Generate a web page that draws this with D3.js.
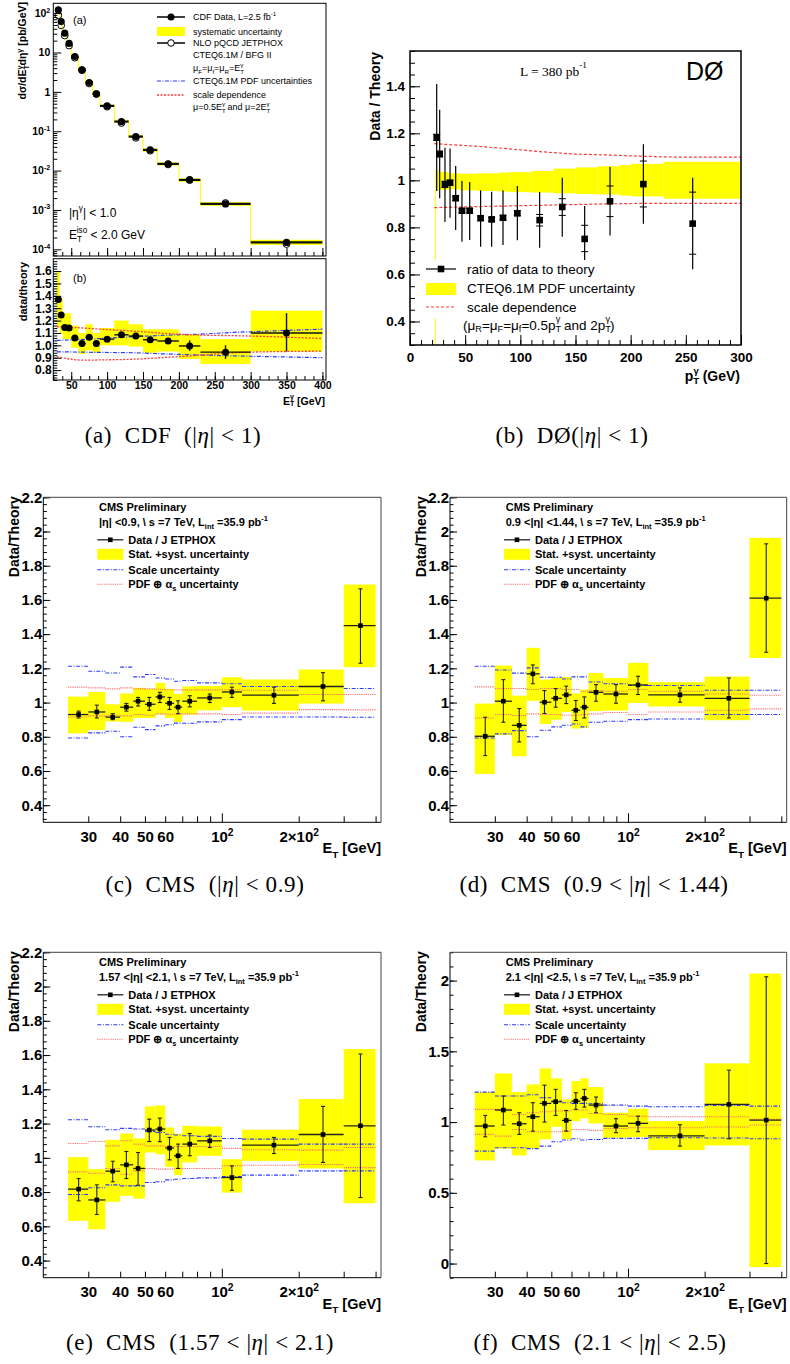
<!DOCTYPE html>
<html>
<head>
<meta charset="utf-8">
<script src="https://cdn.jsdelivr.net/npm/d3@7"></script>
<style>
  body { margin: 0; background: #fff; }
  svg { display: block; }
</style>
</head>
<body>
<div id="chart"></div>
<script>
// ---------- data: (a) CDF ----------
var cdfLo     = [30, 34, 38, 44, 50, 60, 70, 80, 90, 110, 130, 150, 170, 200, 230, 300];
var cdfHi     = [34, 38, 44, 50, 60, 70, 80, 90, 110, 130, 150, 170, 200, 230, 300, 400];
var cdfX      = [32, 36, 41, 47, 55, 65, 75, 85, 100, 120, 140, 160, 185, 215, 265, 350];
var cdfData   = [121, 61, 31, 17, 7.9, 3.6, 1.73, 0.89, 0.44, 0.176, 0.073, 0.0335, 0.0148, 0.0058, 0.00142, 0.00015];
var cdfTheory = [88, 49, 27, 15, 7.4, 3.55, 1.63, 0.88, 0.42, 0.162, 0.068, 0.032, 0.0143, 0.0058, 0.0015, 0.000136];
var cdfRatio  = [1.37, 1.245, 1.145, 1.14, 1.06, 1.015, 1.065, 1.015, 1.05, 1.085, 1.075, 1.045, 1.035, 0.995, 0.945, 1.10];
var cdfSysLo  = [1.15, 1.10, 1.05, 1.05, 0.98, 0.93, 0.96, 0.94, 1.00, 1.00, 0.99, 0.94, 0.95, 0.89, 0.85, 0.95];
var cdfSysHi  = [1.60, 1.38, 1.26, 1.26, 1.16, 1.10, 1.17, 1.10, 1.14, 1.20, 1.17, 1.13, 1.13, 1.09, 1.05, 1.28];
var cdfErrLo  = [1.35, 1.23, 1.13, 1.125, 1.045, 1.0, 1.05, 1.0, 1.035, 1.07, 1.06, 1.03, 1.015, 0.955, 0.89, 0.95];
var cdfErrHi  = [1.39, 1.26, 1.16, 1.155, 1.075, 1.03, 1.08, 1.03, 1.065, 1.10, 1.09, 1.06, 1.055, 1.04, 1.0, 1.26];
var cdfLineX   = [30, 67, 90, 136, 183, 229, 276, 300, 400];
var cdfScaleUp = [1.15, 1.14, 1.131, 1.115, 1.096, 1.083, 1.078, 1.075, 1.055];
var cdfScaleDn = [0.907, 0.88, 0.882, 0.888, 0.903, 0.92, 0.94, 0.945, 0.953];
var cdfPdfUp   = [1.04, 1.048, 1.055, 1.069, 1.082, 1.09, 1.105, 1.11, 1.131];
var cdfPdfDn   = [0.948, 0.945, 0.943, 0.94, 0.93, 0.922, 0.915, 0.912, 0.9];
var cdfLogTicks  = [1e-4, 1e-3, 1e-2, 1e-1, 1, 10, 100];
var cdfLogLabels = ["10^{-4}", "10^{-3}", "10^{-2}", "10^{-1}", "1", "10", "10^{2}"];
var cdfXTicks  = [50, 100, 150, 200, 250, 300, 350, 400];
var cdfRTicks  = [0.8, 0.9, 1.0, 1.1, 1.2, 1.3, 1.4, 1.5, 1.6];

// ---------- data: (b) D0 ----------
var d0X     = [24.2, 26.9, 31.7, 36.3, 41.4, 47.1, 54.1, 64, 74, 84.3, 97.3, 117.5, 138, 158.3, 181.3, 211.5, 256.2];
var d0Ratio = [1.183, 1.112, 0.983, 0.99, 0.924, 0.871, 0.871, 0.839, 0.834, 0.841, 0.86, 0.831, 0.887, 0.751, 0.911, 0.984, 0.816];
var d0ErrLo = [0.955, 0.924, 0.823, 0.841, 0.789, 0.739, 0.746, 0.718, 0.718, 0.725, 0.745, 0.714, 0.76, 0.661, 0.766, 0.816, 0.622];
var d0ErrHi = [1.41, 1.30, 1.139, 1.135, 1.061, 0.997, 0.993, 0.958, 0.952, 0.958, 0.976, 0.95, 1.011, 0.891, 1.057, 1.153, 1.011];
var d0StatLo = [1.17, 1.10, 0.97, 0.98, 0.915, 0.862, 0.862, 0.83, 0.825, 0.832, 0.85, 0.806, 0.851, 0.697, 0.846, 0.887, 0.686];
var d0StatHi = [1.196, 1.124, 0.996, 1.0, 0.933, 0.88, 0.88, 0.848, 0.843, 0.85, 0.87, 0.855, 0.922, 0.809, 0.976, 1.082, 0.95];
var d0BandEdges = [23, 27, 35, 45, 60, 80, 90, 110, 130, 150, 170, 190, 200, 230, 300];
var d0BandHi = [1.042, 1.035, 1.03, 1.028, 1.03, 1.033, 1.035, 1.04, 1.05, 1.055, 1.06, 1.065, 1.07, 1.079];
var d0BandLo = [0.958, 0.96, 0.962, 0.958, 0.955, 0.952, 0.95, 0.948, 0.945, 0.942, 0.94, 0.935, 0.932, 0.922];
var d0LineX   = [22, 57, 88, 118, 148, 178, 208, 239, 300];
var d0ScaleUp = [1.156, 1.146, 1.135, 1.122, 1.112, 1.108, 1.103, 1.099, 1.099];
var d0ScaleDn = [0.884, 0.888, 0.891, 0.894, 0.897, 0.9, 0.902, 0.902, 0.902];
var d0XTicks  = [0, 50, 100, 150, 200, 250, 300];
var d0YTicks  = [0.4, 0.6, 0.8, 1, 1.2, 1.4];
var d0YLabels = ["0.4", "0.6", "0.8", "1", "1.2", "1.4"];

// ---------- data: CMS (c)-(f) ----------
var cmsLo = [25, 30, 35, 40, 45, 50, 55, 60, 65, 70, 80, 100, 120, 200, 300];
var cmsHi = [30, 35, 40, 45, 50, 55, 60, 65, 70, 80, 100, 120, 200, 300, 400];
var cmsX  = [27.5, 32.4, 37.4, 42.3, 47, 52, 57.2, 62.4, 67.4, 74.9, 89.7, 109.5, 160, 249, 349];
var cmsXTicks  = [30, 40, 50, 60, 70, 80, 90, 100, 200, 300, 400];
var cmsXLabels = ["30", "40", "50", "60", "", "", "", "10^{2}", "2\u00d710^{2}", "", ""];
var cmsYTicks  = [0.4, 0.6, 0.8, 1, 1.2, 1.4, 1.6, 1.8, 2, 2.2];
var cmsYLabels = ["0.4", "0.6", "0.8", "1", "1.2", "1.4", "1.6", "1.8", "2", "2.2"];
var cmsFYTicks  = [0, 0.5, 1, 1.5, 2];
var cmsFYLabels = ["0", "0.5", "1", "1.5", "2"];

var cRatio  = [0.93, 0.945, 0.915, 0.973, 1.008, 0.99, 1.033, 0.996, 0.973, 1.008, 1.027, 1.062, 1.043, 1.094, 1.45];
var cBandLo = [0.82, 0.84, 0.89, 0.887, 0.91, 0.91, 0.93, 0.91, 0.887, 0.93, 0.955, 0.973, 0.953, 0.994, 1.207];
var cBandHi = [1.035, 1.062, 0.99, 1.053, 1.086, 1.08, 1.115, 1.08, 1.05, 1.094, 1.097, 1.148, 1.135, 1.193, 1.69];
var cErrLo  = [0.91, 0.91, 0.90, 0.95, 0.98, 0.955, 1.0, 0.96, 0.935, 0.975, 1.0, 1.03, 0.995, 1.01, 1.23];
var cErrHi  = [0.95, 0.985, 0.935, 0.995, 1.03, 1.03, 1.06, 1.03, 1.01, 1.04, 1.05, 1.09, 1.09, 1.175, 1.665];
var cScaleUp = [1.212, 1.183, 1.173, 1.207, 1.15, 1.164, 1.144, 1.138, 1.125, 1.129, 1.115, 1.11, 1.094, 1.094, 1.082];
var cScaleDn = [0.793, 0.823, 0.832, 0.80, 0.856, 0.842, 0.864, 0.87, 0.88, 0.879, 0.887, 0.90, 0.916, 0.916, 0.914];
var cPdfUp   = [1.09, 1.086, 1.08, 1.086, 1.08, 1.08, 1.078, 1.075, 1.075, 1.074, 1.074, 1.075, 1.072, 1.047, 1.047];
var cPdfDn   = [0.916, 0.922, 0.926, 0.922, 0.93, 0.926, 0.934, 0.932, 0.934, 0.934, 0.934, 0.93, 0.938, 0.959, 0.957];

var dRatio  = [0.803, 1.008, 0.867, 1.168, 1.002, 1.025, 1.045, 0.955, 0.973, 1.06, 1.05, 1.103, 1.045, 1.025, 1.61];
var dBandLo = [0.583, 0.81, 0.686, 1.01, 0.875, 0.90, 0.945, 0.848, 0.852, 0.95, 0.953, 0.998, 0.977, 0.897, 1.261];
var dBandHi = [0.994, 1.216, 1.04, 1.32, 1.134, 1.144, 1.15, 1.053, 1.076, 1.173, 1.144, 1.232, 1.119, 1.152, 1.963];
var dErrLo  = [0.69, 0.885, 0.77, 1.11, 0.936, 0.973, 0.994, 0.895, 0.91, 1.008, 0.996, 1.047, 1.002, 0.91, 1.294];
var dErrHi  = [0.914, 1.134, 0.965, 1.22, 1.07, 1.082, 1.096, 1.012, 1.033, 1.105, 1.105, 1.154, 1.086, 1.144, 1.928];
var dScaleUp = [1.212, 1.19, 1.172, 1.203, 1.148, 1.148, 1.138, 1.15, 1.15, 1.12, 1.11, 1.10, 1.10, 1.072, 1.072];
var dScaleDn = [0.793, 0.817, 0.836, 0.80, 0.838, 0.858, 0.867, 0.875, 0.858, 0.885, 0.891, 0.90, 0.904, 0.93, 0.93];
var dPdfUp   = [1.092, 1.082, 1.082, 1.076, 1.082, 1.082, 1.076, 1.076, 1.066, 1.07, 1.066, 1.076, 1.066, 1.05, 1.043];
var dPdfDn   = [0.91, 0.93, 0.924, 0.934, 0.93, 0.93, 0.926, 0.926, 0.93, 0.934, 0.942, 0.93, 0.945, 0.955, 0.963];

var eRatio  = [0.817, 0.754, 0.922, 0.959, 0.938, 1.162, 1.168, 1.057, 1.012, 1.08, 1.099, 0.885, 1.074, 1.136, 1.187];
var eBandLo = [0.632, 0.583, 0.743, 0.778, 0.762, 1.031, 1.021, 0.947, 0.899, 0.973, 1.012, 0.797, 0.982, 0.938, 0.735];
var eBandHi = [1.004, 0.934, 1.105, 1.142, 1.113, 1.30, 1.306, 1.177, 1.14, 1.187, 1.183, 0.992, 1.164, 1.343, 1.635];
var eErrLo  = [0.749, 0.669, 0.86, 0.879, 0.84, 1.095, 1.094, 0.988, 0.938, 1.012, 1.06, 0.81, 1.025, 0.973, 0.768];
var eErrHi  = [0.879, 0.842, 0.98, 1.037, 1.031, 1.226, 1.232, 1.119, 1.08, 1.142, 1.133, 0.953, 1.119, 1.30, 1.606];
var eScaleUp = [1.222, 1.181, 1.164, 1.172, 1.168, 1.154, 1.148, 1.138, 1.133, 1.129, 1.125, 1.113, 1.109, 1.08, 1.08];
var eScaleDn = [0.786, 0.825, 0.842, 0.836, 0.836, 0.856, 0.86, 0.871, 0.875, 0.879, 0.883, 0.891, 0.899, 0.924, 0.924];
var ePdfUp   = [1.084, 1.095, 1.07, 1.10, 1.08, 1.07, 1.07, 1.066, 1.066, 1.066, 1.066, 1.055, 1.047, 1.045, 1.06];
var ePdfDn   = [0.918, 0.91, 0.938, 0.904, 0.924, 0.938, 0.934, 0.934, 0.938, 0.938, 0.938, 0.953, 0.957, 0.961, 0.943];

var fRatio  = [0.972, 1.085, 0.988, 1.038, 1.132, 1.144, 1.012, 1.148, 1.167, 1.12, 0.972, 0.991, 0.903, 1.125, 1.014];
var fBandLo = [0.729, 0.812, 0.764, 0.812, 0.878, 0.967, 0.878, 1.007, 1.026, 0.991, 0.889, 0.894, 0.802, 0.835, -0.025];
var fBandHi = [1.212, 1.344, 1.212, 1.266, 1.379, 1.309, 1.16, 1.29, 1.309, 1.247, 1.066, 1.094, 1.007, 1.415, 2.05];
var fErrLo  = [0.896, 0.979, 0.913, 0.936, 1.0, 1.047, 0.936, 1.09, 1.106, 1.066, 0.925, 0.932, 0.83, 0.882, 0.0];
var fErrHi  = [1.047, 1.184, 1.066, 1.137, 1.261, 1.231, 1.082, 1.207, 1.231, 1.177, 1.024, 1.042, 0.981, 1.367, 2.027];
var fScaleUp = [1.212, 1.184, 1.184, 1.193, 1.172, 1.148, 1.137, 1.132, 1.132, 1.13, 1.12, 1.113, 1.108, 1.118, 1.113];
var fScaleDn = [0.795, 0.819, 0.819, 0.812, 0.83, 0.861, 0.873, 0.882, 0.873, 0.877, 0.885, 0.885, 0.889, 0.887, 0.882];
var fPdfUp   = [1.09, 1.09, 1.054, 1.066, 1.073, 1.078, 1.078, 1.085, 1.085, 1.061, 1.054, 1.042, 1.038, 1.038, 1.019];
var fPdfDn   = [0.913, 0.901, 0.948, 0.932, 0.932, 0.932, 0.936, 0.948, 0.948, 0.941, 0.955, 0.96, 0.96, 0.965, 0.979];

// ---------- setup ----------
var W = 790, H = 1364;
var SANS = "'Liberation Sans', Arial, Helvetica, sans-serif";
var SERIF = "'Liberation Serif', 'Times New Roman', serif";
var YELLOW = "#ffff00", BLUE = "#2b3bff", RED = "#ff3b3b", PINK = "#ff6f6f";

var svg = d3.select("#chart").append("svg")
    .attr("width", W).attr("height", H)
    .attr("font-family", SANS);
svg.append("rect").attr("width", W).attr("height", H).attr("fill", "#fff");

// text with ^{sup} and _{sub}; "~" at start of a script puts it back over the previous one
function rich(sel, str, fs) {
    var re = /([\^_])\{([^}]*)\}/g, last = 0, m, shift = 0, prev = "";
    function add(s, kind) {
        if (!s) return;
        var back = false;
        if (s[0] === "~") { back = true; s = s.slice(1); }
        var t = sel.append("tspan").text(s);
        var target = kind === "^" ? -0.42 * fs : kind === "_" ? 0.3 * fs : 0;
        if (target !== shift) t.attr("dy", target - shift);
        shift = target;
        if (kind) t.attr("font-size", fs * 0.68);
        if (back) t.attr("dx", -prev.length * fs * 0.68 * 0.6);
        prev = s;
    }
    while ((m = re.exec(str))) {
        add(str.slice(last, m.index), null);
        add(m[2], m[1]);
        last = re.lastIndex;
    }
    add(str.slice(last), null);
    return sel;
}

function label(x, y, str, fs, opts) {
    opts = opts || {};
    var t = svg.append("text")
        .attr("x", x).attr("y", y)
        .attr("font-size", fs)
        .attr("font-weight", opts.bold ? "bold" : "normal")
        .attr("font-family", opts.family || SANS)
        .attr("text-anchor", opts.anchor || "start")
        .attr("dominant-baseline", opts.baseline || "central")
        .attr("fill", "#000");
    if (opts.rotate) t.attr("transform", "rotate(-90," + x + "," + y + ")");
    return rich(t, str, fs);
}

// ROOT-like axis: ticks inside the frame
function axis(gen, pos, vals, size, labels, fs, pad) {
    var a = svg.append("g")
        .attr("transform", pos)
        .call(gen.tickValues(vals).tickSize(size).tickPadding(pad || 3)
            .tickFormat(function (d, i) { return labels ? labels[i] : ""; }));
    a.select(".domain").remove();
    a.selectAll("line").attr("stroke", "#000").attr("stroke-width", 1);
    a.attr("font-family", SANS).attr("font-size", fs || 10).attr("font-weight", "bold");
    a.selectAll(".tick text").attr("fill", "#000").each(function (d, i) {
        var s = labels ? labels[i] : "";
        if (s.indexOf("{") >= 0) {
            var t = d3.select(this);
            t.text(null);
            rich(t, s, fs);
        }
    });
    return a;
}

function frame(x0, y0, x1, y1, w) {
    svg.append("rect").attr("x", x0).attr("y", y0)
        .attr("width", x1 - x0).attr("height", y1 - y0)
        .attr("fill", "none").attr("stroke", "#000").attr("stroke-width", w || 1);
}

// ================= (a) CDF =================
var A = { x0: 53.3, x1: 326, y0: 3.3, y1: 256, y2: 258.7, y3: 380 };
var ax = d3.scaleLinear().domain([25, 405]).range([A.x0, A.x1]);
var ayT = d3.scaleLog().domain([Math.pow(10, -4.17), Math.pow(10, 2.25)]).range([A.y1, A.y0]);
var ayB = d3.scaleLinear().domain([0.72, 1.70]).range([A.y3, A.y2]);
var cdfIdx = d3.range(cdfX.length);

var ga = svg.append("g");
// top: systematic boxes
ga.selectAll(null).data(cdfIdx).join("rect")
    .attr("x", function (i) { return ax(cdfLo[i]); })
    .attr("width", function (i) { return ax(cdfHi[i]) - ax(cdfLo[i]); })
    .attr("y", function (i) { return ayT(cdfTheory[i] * cdfSysHi[i]); })
    .attr("height", function (i) { return ayT(cdfTheory[i] * cdfSysLo[i]) - ayT(cdfTheory[i] * cdfSysHi[i]); })
    .attr("fill", YELLOW);
var stepPts = cdfIdx.map(function (i) { return [cdfLo[i], cdfData[i]]; });
stepPts.push([cdfHi[cdfHi.length - 1], cdfData[cdfData.length - 1]]);
ga.append("path")
    .attr("d", d3.line().curve(d3.curveStepAfter)
        .x(function (d) { return ax(d[0]); }).y(function (d) { return ayT(d[1]); })(stepPts))
    .attr("fill", "none").attr("stroke", YELLOW).attr("stroke-width", 1);
ga.selectAll(null).data(cdfIdx).join("line")
    .attr("x1", function (i) { return ax(cdfLo[i]); })
    .attr("x2", function (i) { return ax(cdfHi[i]); })
    .attr("y1", function (i) { return ayT(cdfData[i]); })
    .attr("y2", function (i) { return ayT(cdfData[i]); })
    .attr("stroke", "#111").attr("stroke-width", 2.2);
ga.selectAll(null).data(cdfIdx).join("circle")
    .attr("cx", function (i) { return ax(cdfX[i]); })
    .attr("cy", function (i) { return ayT(cdfTheory[i]); })
    .attr("r", 3.4).attr("fill", "none").attr("stroke", "#000").attr("stroke-width", 1);
ga.selectAll(null).data(cdfIdx).join("circle")
    .attr("cx", function (i) { return ax(cdfX[i]); })
    .attr("cy", function (i) { return ayT(cdfData[i]); })
    .attr("r", 3.6).attr("fill", "#000");

// bottom: ratio
ga.selectAll(null).data(cdfIdx).join("rect")
    .attr("x", function (i) { return ax(cdfLo[i]); })
    .attr("width", function (i) { return ax(cdfHi[i]) - ax(cdfLo[i]); })
    .attr("y", function (i) { return ayB(cdfSysHi[i]); })
    .attr("height", function (i) { return ayB(cdfSysLo[i]) - ayB(cdfSysHi[i]); })
    .attr("fill", YELLOW);
var cdfCurve = function (vals) {
    return d3.line().curve(d3.curveMonotoneX)
        .x(function (d, i) { return ax(cdfLineX[i]); })
        .y(function (d) { return ayB(d); })(vals);
};
[cdfPdfUp, cdfPdfDn].forEach(function (v) {
    ga.append("path").attr("d", cdfCurve(v)).attr("fill", "none")
        .attr("stroke", BLUE).attr("stroke-width", 1.2).attr("stroke-dasharray", "4,1.5,1,1.5");
});
[cdfScaleUp, cdfScaleDn].forEach(function (v) {
    ga.append("path").attr("d", cdfCurve(v)).attr("fill", "none")
        .attr("stroke", RED).attr("stroke-width", 1.3).attr("stroke-dasharray", "2,1.5");
});
ga.selectAll(null).data(cdfIdx).join("line")
    .attr("x1", function (i) { return ax(cdfLo[i]); })
    .attr("x2", function (i) { return ax(cdfHi[i]); })
    .attr("y1", function (i) { return ayB(cdfRatio[i]); })
    .attr("y2", function (i) { return ayB(cdfRatio[i]); })
    .attr("stroke", "#111").attr("stroke-width", 1.4);
ga.selectAll(null).data(cdfIdx).join("line")
    .attr("x1", function (i) { return ax(cdfX[i]); })
    .attr("x2", function (i) { return ax(cdfX[i]); })
    .attr("y1", function (i) { return ayB(cdfErrLo[i]); })
    .attr("y2", function (i) { return ayB(cdfErrHi[i]); })
    .attr("stroke", "#111").attr("stroke-width", 1.4);
ga.selectAll(null).data(cdfIdx).join("circle")
    .attr("cx", function (i) { return ax(cdfX[i]); })
    .attr("cy", function (i) { return ayB(cdfRatio[i]); })
    .attr("r", 3.5).attr("fill", "#000");

// axes (a)
var logMinor = [];
[1e-5, 1e-4, 1e-3, 1e-2, 1e-1, 1, 10, 100].forEach(function (m) {
    for (var k = 2; k <= 9; k++) {
        var v = m * k;
        if (v > Math.pow(10, -4.17) && v < Math.pow(10, 2.25)) logMinor.push(v);
    }
});
axis(d3.axisLeft(ayT), "translate(" + A.x0 + ",0)", logMinor, -4);
axis(d3.axisLeft(ayT), "translate(" + A.x0 + ",0)", cdfLogTicks, -8, cdfLogLabels, 10.5, 3);
var xMinorA = d3.range(25, 405, 12.5);
axis(d3.axisBottom(ax), "translate(0," + A.y1 + ")", xMinorA, -4);
axis(d3.axisBottom(ax), "translate(0," + A.y1 + ")", cdfXTicks, -8);
axis(d3.axisLeft(ayB), "translate(" + A.x0 + ",0)", d3.range(0.72, 1.70, 0.02), -4);
axis(d3.axisLeft(ayB), "translate(" + A.x0 + ",0)", cdfRTicks, -8,
    cdfRTicks.map(function (d) { return d.toFixed(1); }), 12, 1.5);
axis(d3.axisBottom(ax), "translate(0," + A.y3 + ")", xMinorA, -4);
axis(d3.axisBottom(ax), "translate(0," + A.y3 + ")", cdfXTicks, -8,
    cdfXTicks.map(String), 10.5, 2);
frame(A.x0, A.y0, A.x1, A.y1);
frame(A.x0, A.y2, A.x1, A.y3);

label(26, 2, "d\u03c3/dE_{T}^{~\u03b3}d\u03b7^{\u03b3} [pb/GeV]", 10.5, { bold: true, anchor: "end", baseline: "auto", rotate: true });
label(27, 262, "data/theory", 11, { bold: true, anchor: "end", baseline: "auto", rotate: true });
label(325, 401, "E_{T}^{~\u03b3} [GeV]", 10.5, { bold: true, anchor: "end" });
label(73, 20, "(a)", 11);
label(73, 278, "(b)", 11);
label(69, 213, "|\u03b7^{\u03b3}| < 1.0", 12);
label(69, 235, "E_{T}^{~iso} < 2.0 GeV", 12);

// legend (a)
ga.append("line").attr("x1", 157).attr("x2", 185).attr("y1", 17).attr("y2", 17).attr("stroke", "#000").attr("stroke-width", 1.5);
ga.append("circle").attr("cx", 171).attr("cy", 17).attr("r", 3.5).attr("fill", "#000");
ga.append("rect").attr("x", 157).attr("y", 27).attr("width", 28).attr("height", 9).attr("fill", YELLOW);
ga.append("line").attr("x1", 157).attr("x2", 185).attr("y1", 43).attr("y2", 43).attr("stroke", "#000").attr("stroke-width", 1.5);
ga.append("circle").attr("cx", 171).attr("cy", 43).attr("r", 3.3).attr("fill", "#fff").attr("stroke", "#000");
ga.append("line").attr("x1", 157).attr("x2", 185).attr("y1", 81).attr("y2", 81)
    .attr("stroke", BLUE).attr("stroke-width", 1.2).attr("stroke-dasharray", "4,1.5,1,1.5");
ga.append("line").attr("x1", 157).attr("x2", 185).attr("y1", 95).attr("y2", 95)
    .attr("stroke", RED).attr("stroke-width", 1.3).attr("stroke-dasharray", "2,1.5");
label(193, 17, "CDF Data, L=2.5 fb^{-1}", 9);
label(193, 32, "systematic uncertainty", 9);
label(193, 43, "NLO pQCD JETPHOX", 9);
label(193, 55, "CTEQ6.1M / BFG II", 9);
label(193, 68, "\u03bc_{F}=\u03bc_{f}=\u03bc_{R}=E_{T}^{~\u03b3}", 9);
label(193, 81, "CTEQ6.1M PDF uncertainties", 9);
label(193, 95, "scale dependence", 9);
label(193, 107, "\u03bc=0.5E_{T}^{~\u03b3} and \u03bc=2E_{T}^{~\u03b3}", 9);

// ================= (b) D0 =================
var B = { x0: 410, x1: 741, y0: 51, y1: 345 };
var bx = d3.scaleLinear().domain([0, 300]).range([B.x0, B.x1]);
var by = d3.scaleLinear().domain([0.3, 1.55]).range([B.y1, B.y0]);
var gb = svg.append("g");
var bandIdx = d3.range(d0BandHi.length);
gb.selectAll(null).data(bandIdx).join("rect")
    .attr("x", function (i) { return bx(d0BandEdges[i]); })
    .attr("width", function (i) { return bx(d0BandEdges[i + 1]) - bx(d0BandEdges[i]); })
    .attr("y", function (i) { return by(d0BandHi[i]); })
    .attr("height", function (i) { return by(d0BandLo[i]) - by(d0BandHi[i]); })
    .attr("fill", YELLOW);
gb.append("line")
    .attr("x1", bx(d0BandEdges[0])).attr("x2", bx(d0BandEdges[0]))
    .attr("y1", by(d0BandLo[0])).attr("y2", B.y1)
    .attr("stroke", YELLOW).attr("stroke-width", 1);
var d0Line = d3.line().x(function (d, i) { return bx(d0LineX[i]); }).y(function (d) { return by(d); });
[d0ScaleUp, d0ScaleDn].forEach(function (v) {
    gb.append("path").attr("d", d0Line(v)).attr("fill", "none")
        .attr("stroke", RED).attr("stroke-width", 1.2).attr("stroke-dasharray", "3,2");
});
// legend background
gb.append("rect").attr("x", 420).attr("y", 260).attr("width", 220).attr("height", 58).attr("fill", "#fff");
var d0Idx = d3.range(d0X.length);
gb.selectAll(null).data(d0Idx).join("line")
    .attr("x1", function (i) { return bx(d0X[i]); })
    .attr("x2", function (i) { return bx(d0X[i]); })
    .attr("y1", function (i) { return by(d0ErrLo[i]); })
    .attr("y2", function (i) { return by(d0ErrHi[i]); })
    .attr("stroke", "#000").attr("stroke-width", 1.2);
[d0StatLo, d0StatHi].forEach(function (arr) {
    gb.selectAll(null).data(d0Idx).join("line")
        .attr("x1", function (i) { return bx(d0X[i]) - 3.5; })
        .attr("x2", function (i) { return bx(d0X[i]) + 3.5; })
        .attr("y1", function (i) { return by(arr[i]); })
        .attr("y2", function (i) { return by(arr[i]); })
        .attr("stroke", "#000").attr("stroke-width", 1);
});
gb.selectAll(null).data(d0Idx).join("rect")
    .attr("x", function (i) { return bx(d0X[i]) - 3.3; })
    .attr("y", function (i) { return by(d0Ratio[i]) - 3.3; })
    .attr("width", 6.6).attr("height", 6.6).attr("fill", "#000");

axis(d3.axisBottom(bx), "translate(0," + B.y1 + ")", d3.range(0, 301, 10), -5);
axis(d3.axisBottom(bx), "translate(0," + B.y1 + ")", d0XTicks, -10, d0XTicks.map(String), 13.5, 7);
axis(d3.axisLeft(by), "translate(" + B.x0 + ",0)", d3.range(0.3, 1.551, 0.05), -5);
axis(d3.axisLeft(by), "translate(" + B.x0 + ",0)", d0YTicks, -10, d0YLabels, 13.5, 5);
frame(B.x0, B.y0, B.x1, B.y1, 1.5);
label(380, 52, "Data / Theory", 14, { bold: true, anchor: "end", baseline: "auto", rotate: true });
label(740, 376, "p_{T}^{~\u03b3} (GeV)", 14, { bold: true, anchor: "end" });
label(520, 71, "L = 380 pb^{-1}", 13.5, { family: SERIF });
label(686, 71, "D\u00d8", 25);

gb.append("line").attr("x1", 426).attr("x2", 456).attr("y1", 269).attr("y2", 269).attr("stroke", "#000").attr("stroke-width", 1.2);
gb.append("rect").attr("x", 441 - 3.3).attr("y", 269 - 3.3).attr("width", 6.6).attr("height", 6.6).attr("fill", "#000");
gb.append("rect").attr("x", 426).attr("y", 283).attr("width", 30).attr("height", 12).attr("fill", YELLOW);
gb.append("line").attr("x1", 426).attr("x2", 456).attr("y1", 307).attr("y2", 307)
    .attr("stroke", RED).attr("stroke-width", 1.2).attr("stroke-dasharray", "3,2");
label(467, 269, "ratio of data to theory", 13.5);
label(467, 288, "CTEQ6.1M PDF uncertainty", 13.5);
label(467, 307, "scale dependence", 13.5);
label(463, 325, "(\u03bc_{R}=\u03bc_{F}=\u03bc_{f}=0.5p_{T}^{~\u03b3} and 2p_{T}^{~\u03b3})", 13.5);

// ================= CMS panels =================
function cmsPanel(o) {
    var x = d3.scaleLog().domain([20, 420]).range([o.x0, o.x1]);
    var y = d3.scaleLinear().domain(o.yDom).range([o.y1, o.y0]);
    var g = svg.append("g");
    var idx = d3.range(cmsX.length);

    g.selectAll(null).data(idx).join("rect")
        .attr("x", function (i) { return x(cmsLo[i]); })
        .attr("width", function (i) { return x(cmsHi[i]) - x(cmsLo[i]); })
        .attr("y", function (i) { return y(o.bandHi[i]); })
        .attr("height", function (i) { return y(o.bandLo[i]) - y(o.bandHi[i]); })
        .attr("fill", YELLOW);

    [[o.scaleUp, BLUE, "4,1.5,1,1.5"], [o.scaleDn, BLUE, "4,1.5,1,1.5"],
     [o.pdfUp, PINK, "1.2,1"], [o.pdfDn, PINK, "1.2,1"]].forEach(function (s) {
        g.selectAll(null).data(idx).join("line")
            .attr("x1", function (i) { return x(cmsLo[i]); })
            .attr("x2", function (i) { return x(cmsHi[i]); })
            .attr("y1", function (i) { return y(s[0][i]); })
            .attr("y2", function (i) { return y(s[0][i]); })
            .attr("stroke", s[1]).attr("stroke-width", 1.1).attr("stroke-dasharray", s[2]);
    });

    g.selectAll(null).data(idx).join("line")
        .attr("x1", function (i) { return x(cmsLo[i]); })
        .attr("x2", function (i) { return x(cmsHi[i]); })
        .attr("y1", function (i) { return y(o.ratio[i]); })
        .attr("y2", function (i) { return y(o.ratio[i]); })
        .attr("stroke", "#222").attr("stroke-width", 1.3);
    g.selectAll(null).data(idx).join("line")
        .attr("x1", function (i) { return x(cmsX[i]); })
        .attr("x2", function (i) { return x(cmsX[i]); })
        .attr("y1", function (i) { return y(o.errLo[i]); })
        .attr("y2", function (i) { return y(o.errHi[i]); })
        .attr("stroke", "#222").attr("stroke-width", 1.1);
    [o.errLo, o.errHi].forEach(function (arr) {
        g.selectAll(null).data(idx).join("line")
            .attr("x1", function (i) { return x(cmsX[i]) - 2; })
            .attr("x2", function (i) { return x(cmsX[i]) + 2; })
            .attr("y1", function (i) { return y(arr[i]); })
            .attr("y2", function (i) { return y(arr[i]); })
            .attr("stroke", "#222").attr("stroke-width", 1.1);
    });
    g.selectAll(null).data(idx).join("rect")
        .attr("x", function (i) { return x(cmsX[i]) - 2.3; })
        .attr("y", function (i) { return y(o.ratio[i]) - 2.3; })
        .attr("width", 4.6).attr("height", 4.6).attr("fill", "#000");

    // axes
    axis(d3.axisLeft(y), "translate(" + o.x0 + ",0)", o.yMinor, -3.5);
    axis(d3.axisLeft(y), "translate(" + o.x0 + ",0)", o.yTicks, -7, o.yLabels, 15, 1);
    axis(d3.axisBottom(x), "translate(0," + o.y1 + ")",
        cmsXTicks.filter(function (d) { return d !== 100; }), -6);
    axis(d3.axisBottom(x), "translate(0," + o.y1 + ")", [100], -9);
    axis(d3.axisBottom(x), "translate(0," + o.y1 + ")", cmsXTicks, 0, cmsXLabels, 15, 9);
    svg.append("line").attr("x1", o.x0).attr("x2", o.x0).attr("y1", o.y0).attr("y2", o.y1).attr("stroke", "#000");
    svg.append("line").attr("x1", o.x0).attr("x2", o.x1).attr("y1", o.y1).attr("y2", o.y1).attr("stroke", "#000");
    svg.append("line").attr("x1", o.x0).attr("x2", o.x1).attr("y1", o.y0).attr("y2", o.y0).attr("stroke", "#444");
    svg.append("line").attr("x1", o.x1).attr("x2", o.x1).attr("y1", o.y0).attr("y2", o.y1).attr("stroke", "#444");

    label(o.x0 - 24, o.y0 - 1, "Data/Theory", 14, { bold: true, anchor: "end", baseline: "auto", rotate: true });
    label(o.x1, o.y1 + 31, "E_{T} [GeV]", 14.5, { bold: true, anchor: "end", baseline: "auto" });

    // legend
    var lx = o.x0 + 55.7, sx0 = o.x0 + 54, sx1 = o.x0 + 80, tx = o.x0 + 85, ly = o.y0;
    label(lx, ly + 9.5, "CMS Preliminary", 11, { bold: true });
    label(lx, ly + 25, o.cond + ", \\ s =7 TeV, L_{int} =35.9 pb^{-1}", 11, { bold: true });
    g.append("line").attr("x1", sx0).attr("x2", sx1).attr("y1", ly + 42.5).attr("y2", ly + 42.5).attr("stroke", "#222").attr("stroke-width", 1.3);
    g.append("rect").attr("x", (sx0 + sx1) / 2 - 2.3).attr("y", ly + 42.5 - 2.3).attr("width", 4.6).attr("height", 4.6).attr("fill", "#000");
    g.append("rect").attr("x", sx0).attr("y", ly + 51.5).attr("width", sx1 - sx0).attr("height", 11).attr("fill", YELLOW);
    g.append("line").attr("x1", sx0).attr("x2", sx1).attr("y1", ly + 72.5).attr("y2", ly + 72.5)
        .attr("stroke", BLUE).attr("stroke-width", 1.1).attr("stroke-dasharray", "4,1.5,1,1.5");
    g.append("line").attr("x1", sx0).attr("x2", sx1).attr("y1", ly + 87).attr("y2", ly + 87)
        .attr("stroke", PINK).attr("stroke-width", 1.1).attr("stroke-dasharray", "1.2,1");
    label(tx, ly + 42.5, "Data / J ETPHOX", 11, { bold: true });
    label(tx, ly + 57, "Stat. +syst. uncertainty", 11, { bold: true });
    label(tx, ly + 72.5, "Scale uncertainty", 11, { bold: true });
    label(tx, ly + 87, "PDF \u2295 \u03b1_{s} uncertainty", 11, { bold: true });
}

var stdMinor = d3.range(0.32, 2.201, 0.04);
cmsPanel({ x0: 43.3, x1: 381, y0: 497.3, y1: 822.3, yDom: [0.3, 2.2],
    yTicks: cmsYTicks, yLabels: cmsYLabels, yMinor: stdMinor, cond: "|\u03b7| <0.9",
    ratio: cRatio, bandLo: cBandLo, bandHi: cBandHi, errLo: cErrLo, errHi: cErrHi,
    scaleUp: cScaleUp, scaleDn: cScaleDn, pdfUp: cPdfUp, pdfDn: cPdfDn });
cmsPanel({ x0: 450, x1: 786.7, y0: 497.3, y1: 822.3, yDom: [0.3, 2.2],
    yTicks: cmsYTicks, yLabels: cmsYLabels, yMinor: stdMinor, cond: "0.9 <|\u03b7| <1.44",
    ratio: dRatio, bandLo: dBandLo, bandHi: dBandHi, errLo: dErrLo, errHi: dErrHi,
    scaleUp: dScaleUp, scaleDn: dScaleDn, pdfUp: dPdfUp, pdfDn: dPdfDn });
cmsPanel({ x0: 43.3, x1: 381, y0: 952.3, y1: 1277.7, yDom: [0.3, 2.2],
    yTicks: cmsYTicks, yLabels: cmsYLabels, yMinor: stdMinor, cond: "1.57 <|\u03b7| <2.1",
    ratio: eRatio, bandLo: eBandLo, bandHi: eBandHi, errLo: eErrLo, errHi: eErrHi,
    scaleUp: eScaleUp, scaleDn: eScaleDn, pdfUp: ePdfUp, pdfDn: ePdfDn });
cmsPanel({ x0: 450, x1: 786.7, y0: 952.3, y1: 1277.7, yDom: [-0.1, 2.2],
    yTicks: cmsFYTicks, yLabels: cmsFYLabels, yMinor: d3.range(-0.1, 2.201, 0.1), cond: "2.1 <|\u03b7| <2.5",
    ratio: fRatio, bandLo: fBandLo, bandHi: fBandHi, errLo: fErrLo, errHi: fErrHi,
    scaleUp: fScaleUp, scaleDn: fScaleDn, pdfUp: fPdfUp, pdfDn: fPdfDn });

// ================= captions =================
function caption(cx, y, before, after) {
    var t = svg.append("text").attr("x", cx).attr("y", y)
        .attr("font-family", SERIF).attr("font-size", 23).attr("text-anchor", "middle")
        .attr("letter-spacing", 0.6).style("white-space", "pre").attr("fill", "#000");
    t.append("tspan").text(before);
    t.append("tspan").attr("font-style", "italic").text("\u03b7");
    t.append("tspan").text(after);
}
caption(173, 443, "(a)  CDF  (|", "| < 1)");
caption(572, 443, "(b)  D\u00d8(|", "| < 1)");
caption(205, 892, "(c)  CMS  (|", "| < 0.9)");
caption(594, 892, "(d)  CMS  (0.9 < |", "| < 1.44)");
caption(200, 1350, "(e)  CMS  (1.57 < |", "| < 2.1)");
caption(600, 1350, "(f)  CMS  (2.1 < |", "| < 2.5)");
</script>
</body>
</html>
